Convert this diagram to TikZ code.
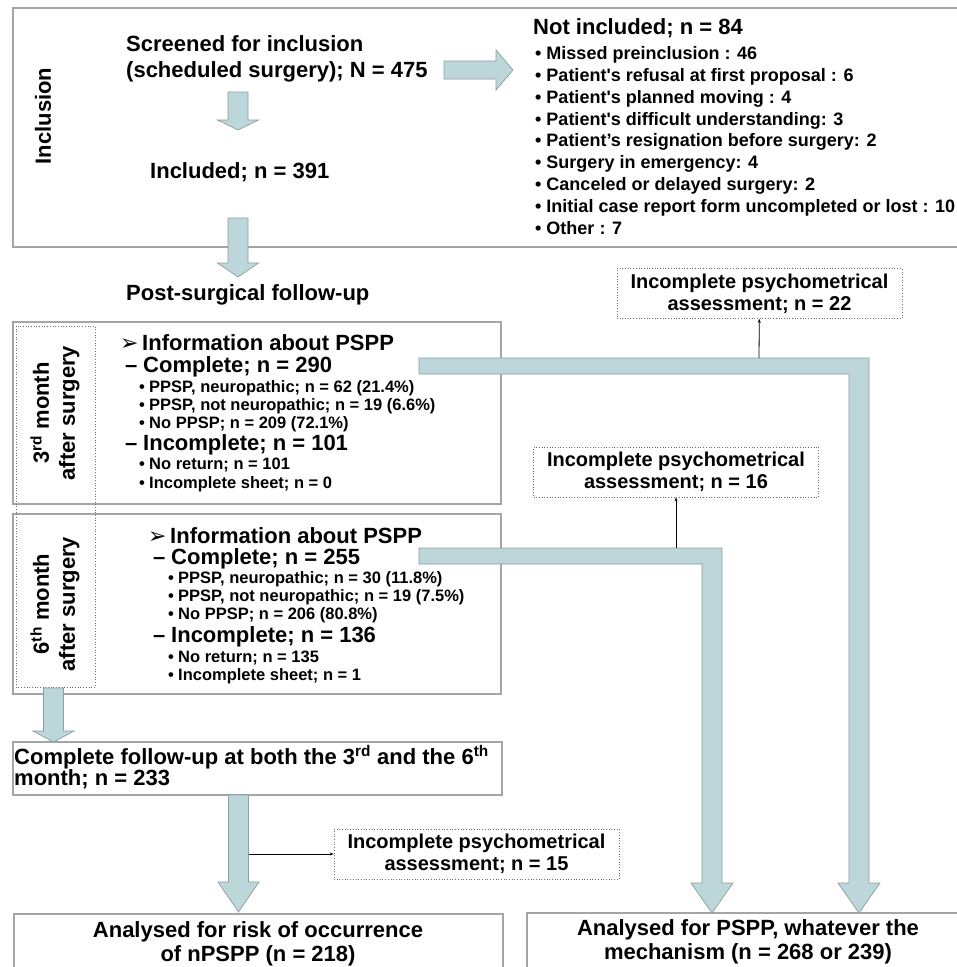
\documentclass[tikz,border=0pt]{standalone}
\usepackage{fontspec}
\setmainfont{Liberation Sans}
\newfontfamily\symfont{DejaVu Sans}
\usetikzlibrary{arrows.meta}

\definecolor{arrowfill}{RGB}{189,214,218}
\definecolor{arrowline}{RGB}{140,158,162}
\definecolor{boxline}{RGB}{165,165,165}
\definecolor{dotline}{RGB}{110,110,110}

\newcommand{\fs}[2]{\fontsize{#1bp}{#2bp}\selectfont\bfseries}

\begin{document}
\begin{tikzpicture}[x=1bp, y=-1bp,
	box/.style={draw=boxline, line width=1.2bp},
	fat/.style={fill=arrowfill, draw=arrowline, line width=0.7bp},
	txt/.style={inner sep=0pt, align=left, anchor=west},
	psy/.style={draw=dotline, dotted, line width=0.7bp, minimum width=285bp,
	            minimum height=50bp, inner sep=0pt, align=center, font=\fs{20}{22}},
	link/.style={draw=black, line width=0.8bp}]
	\useasboundingbox (0,0) rectangle (957,967);
	\fill[white] (0,0) rectangle (957,967);

	% frames
	\draw[box] (13,8) rectangle (965,247);
	\draw[box] (13,322) rectangle (501,504);
	\draw[box] (13,514) rectangle (501,694);
	\draw[box] (13,742) rectangle (502,795);
	\draw[box] (14,914) rectangle (503,975);
	\draw[box] (527,913) rectangle (965,975);
	\draw[draw=dotline, dotted, line width=0.7bp] (16,326) rectangle (95,687);

	% block arrows
	\draw[fat] (444,61) -- (496,61) -- (496,50) -- (513,70) -- (496,90) -- (496,79) -- (444,79) -- cycle;
	\foreach \x/\ya/\yb/\yc in {238/92/120/130, 238/218/263/277, 53.5/688/731/742, 238.5/795/882/912}
		\draw[fat] ({\x-10},\ya) -- ({\x+10},\ya) -- ({\x+10},\yb) -- ({\x+20.5},\yb)
		           -- (\x,\yc) -- ({\x-20.5},\yb) -- ({\x-10},\yb) -- cycle;
	\draw[fat] (419,358) -- (869,358) -- (869,883) -- (880,883) -- (859,913) -- (838,883)
	           -- (849,883) -- (849,374) -- (419,374) -- cycle;
	\draw[fat] (419,548) -- (722,548) -- (722,883) -- (733,883) -- (712,913) -- (691,883)
	           -- (702,883) -- (702,564) -- (419,564) -- cycle;

	% inclusion
	\node[inner sep=0pt, rotate=90, font=\fs{22}{26}] (inclab) at (43,116) {Inclusion};
	\node[txt, font=\fs{22}{26}] (screen) at (126,59) {Screened for inclusion\\(scheduled surgery); N = 475};
	\node[txt, font=\fs{22}{26}] (incl) at (150,172) {Included; n = 391};
	\node[txt, font=\fs{22}{26}] (post) at (126,295) {Post-surgical follow-up};
	\node[txt, font=\fs{22}{26}] (notinc) at (533,28) {Not included; n = 84};
	\node[txt, font=\fs{18}{21.9}] (reasons) at (535,140.5) {%
		• Missed preinclusion : 46\\
		• Patient\textquotesingle s refusal at first proposal : 6\\
		• Patient\textquotesingle s planned moving : 4\\
		• Patient\textquotesingle s difficult understanding: 3\\
		• Patient’s resignation before surgery: 2\\
		• Surgery in emergency: 4\\
		• Canceled or delayed surgery: 2\\
		• Initial case report form uncompleted or lost : 10\\
		• Other : 7};

	% 3rd month
	\node[inner sep=0pt, rotate=90, align=center, font=\fs{22}{26}] (month3) at (55,413)
		{3\textsuperscript{rd} month\\after surgery};
	\node[txt, font=\fs{22}{26}] (info3) at (120,343) {\makebox[22bp][l]{\symfont\fs{22}{24}➢}Information about PSPP};
	\node[txt, font=\fs{22}{26}] (comp3) at (125,367) {\makebox[18bp][l]{–}Complete; n = 290};
	\node[txt, font=\fs{16.5}{18.2}] (pain3) at (139,406) {%
		\makebox[10bp][l]{•}PPSP, neuropathic; n = 62 (21.4\%)\\
		\makebox[10bp][l]{•}PPSP, not neuropathic; n = 19 (6.6\%)\\
		\makebox[10bp][l]{•}No PPSP; n = 209 (72.1\%)};
	\node[txt, font=\fs{22}{26}] (inc3) at (125,445) {\makebox[18bp][l]{–}Incomplete; n = 101};
	\node[txt, font=\fs{16.5}{18.2}] (miss3) at (139,475) {%
		\makebox[10bp][l]{•}No return; n = 101\\
		\makebox[10bp][l]{•}Incomplete sheet; n = 0};

	% 6th month
	\node[inner sep=0pt, rotate=90, align=center, font=\fs{22}{26}] (month6) at (55,604)
		{6\textsuperscript{th} month\\after surgery};
	\node[txt, font=\fs{22}{26}] (info6) at (148,536) {\makebox[22bp][l]{\symfont\fs{22}{24}➢}Information about PSPP};
	\node[txt, font=\fs{22}{26}] (comp6) at (153,559) {\makebox[18bp][l]{–}Complete; n = 255};
	\node[txt, font=\fs{16.5}{18.2}] (pain6) at (168,597.5) {%
		\makebox[10bp][l]{•}PPSP, neuropathic; n = 30 (11.8\%)\\
		\makebox[10bp][l]{•}PPSP, not neuropathic; n = 19 (7.5\%)\\
		\makebox[10bp][l]{•}No PPSP; n = 206 (80.8\%)};
	\node[txt, font=\fs{22}{26}] (inc6) at (153,637) {\makebox[18bp][l]{–}Incomplete; n = 136};
	\node[txt, font=\fs{16.5}{18.2}] (miss6) at (168,667.5) {%
		\makebox[10bp][l]{•}No return; n = 135\\
		\makebox[10bp][l]{•}Incomplete sheet; n = 1};

	% follow-up and analyses
	\node[txt, font=\fs{22}{21}] (both) at (14,767)
		{Complete follow-up at both the 3\textsuperscript{rd} and the 6\textsuperscript{th}\\month; n = 233};
	\node[inner sep=0pt, align=center, font=\fs{22}{23.5}] (risk) at (258,944)
		{Analysed for risk of occurrence\\of nPSPP (n = 218)};
	\node[inner sep=0pt, align=center, font=\fs{22}{23.5}] (anymech) at (748,942)
		{Analysed for PSPP, whatever the\\mechanism (n = 268 or 239)};

	% psychometrical losses
	\node[psy] (p22) at (759.5,293.5) {Incomplete psychometrical\\assessment; n = 22};
	\node[psy] (p16) at (676,472) {Incomplete psychometrical\\assessment; n = 16};
	\node[psy] (p15) at (476.5,854) {Incomplete psychometrical\\assessment; n = 15};

	\coordinate (b1) at (759,358);
	\coordinate (b2) at (676,548);
	\coordinate (a4) at (248.5,854);
	\draw[link, -{Stealth[length=4bp,width=3bp]}] (b1) -- (p22);
	\draw[link, -{Stealth[length=4bp,width=3bp]}] (b2) -- (p16);
	\draw[link, -{Stealth[length=4bp,width=3bp]}] (a4) -- (p15);
\end{tikzpicture}
\end{document}
